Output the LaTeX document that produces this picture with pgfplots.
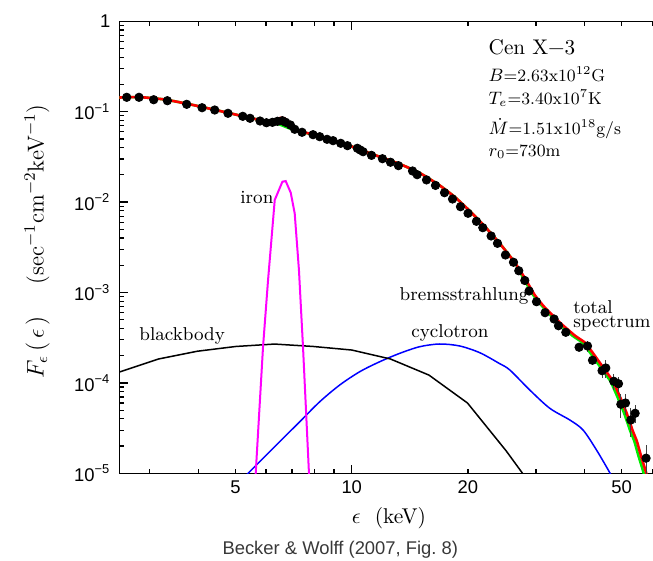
\documentclass[border=0pt]{standalone}
\usepackage{pgfplots}
\pgfplotsset{compat=1.18}
\usepackage{fontspec}
\newfontfamily\hel{Liberation Sans}
\newcommand\ticksf{\hel\fontsize{9.2}{11}\selectfont}
\newcommand\lab{\fontsize{9.3}{11}\selectfont}
\definecolor{cRed}{RGB}{255,0,0}
\definecolor{cGreen}{RGB}{0,235,0}
\definecolor{cBlue}{RGB}{0,0,255}
\definecolor{cMag}{RGB}{255,0,255}

% total model spectrum (with the iron line)
\pgfplotstableread{
x y
2.4953 0.1435
2.8232 0.1450
3.2777 0.13645
3.8056 0.12075
4.4167 0.10497
5.1274 0.09077
5.7769 0.08094
6.1319 0.07830
6.3553 0.08198
6.5478 0.08560
6.7058 0.08409
6.8677 0.07692
7.0761 0.06686
7.3335 0.06116
7.9245 0.05594
8.7700 0.04952
10.000 0.04120
11.471 0.03319
13.318 0.02639
15.004 0.02099
16.904 0.01527
18.489 0.01139
20.219 0.007972
22.112 0.005372
24.181 0.003484
26.444 0.002147
28.066 0.001447
29.787 0.000938
31.623 0.000683
34.584 0.000466
37.821 0.0003345
40.155 0.0002798
42.132 0.0002141
44.704 0.0001500
47.447 0.0001050
49.473 0.0000707
51.576 0.0000459
53.452 0.0000294
54.743 0.0000228
56.061 0.0000159
57.075 0.0000124
57.930 0.0000100
58.452 0.0000080
}\totalred

% continuum model
\pgfplotstableread{
x y
2.4953 0.1435
2.8232 0.1450
3.2777 0.13645
3.8056 0.12075
4.4167 0.10497
5.1274 0.09077
5.7769 0.08094
6.1319 0.07692
6.5089 0.07218
6.9089 0.06521
7.3335 0.06039
7.9245 0.05594
8.7700 0.04952
10.000 0.04120
11.471 0.03319
13.318 0.02639
15.004 0.02099
16.904 0.01527
18.489 0.01139
20.219 0.007972
22.112 0.005372
24.181 0.003484
26.444 0.002147
27.81 0.001447
29.52 0.000938
31.34 0.000683
34.14 0.000466
37.25 0.0003345
39.55 0.0002798
41.50 0.0002141
44.03 0.0001500
46.74 0.0001050
48.73 0.0000707
50.80 0.0000459
52.65 0.0000294
53.92 0.0000228
55.22 0.0000159
56.22 0.0000124
57.06 0.0000100
57.57 0.0000080
}\contgreen

\pgfplotstableread{
x y
2.45 1.28e-4
3.162 1.84e-4
3.981 2.24e-4
5.012 2.53e-4
6.310 2.69e-4
7.943 2.53e-4
10.00 2.31e-4
12.59 1.84e-4
15.85 1.22e-4
19.95 5.99e-5
25.12 1.77e-5
31.62 4.6e-6
}\blackbody

\pgfplotstableread{
x y
5.076 7.75e-6
5.387 1.0e-5
6.132 1.738e-5
7.334 3.72e-5
8.263 6.19e-5
9.309 9.48e-5
10.49 1.33e-4
11.82 1.716e-4
13.32 2.125e-4
15.00 2.515e-4
16.90 2.694e-4
19.05 2.56e-4
21.46 2.158e-4
24.08 1.647e-4
25.67 1.39e-4
28.91 8.35e-5
32.58 5.24e-5
36.71 3.89e-5
39.74 3.01e-5
43.05 1.81e-5
46.60 1.015e-5
48.0 7.9e-6
}\cyclotron

\pgfplotstableread{
x y
5.620 7.75e-6
5.640 1.0e-5
5.892 2.51e-4
6.071 1.375e-3
6.318 1.055e-2
6.613 1.68e-2
6.745 1.71e-2
6.950 1.27e-2
7.117 7.52e-3
7.30 1.77e-3
7.478 2.51e-4
7.75 1.0e-5
7.77 7.8e-6
}\ironline

% observed spectrum: energy, flux, errors
\pgfplotstableread{
x y ex ey
2.613 0.1443 0 0
2.812 0.1443 0 0
3.069 0.1357 0 0
3.330 0.1323 0 0
3.737 0.1207 0 0
4.095 0.1107 0 0
4.417 0.1044 0 0
4.780 0.0960 0 0
5.221 0.0889 0 0
5.453 0.0845 0 0
5.787 0.0789 0 0
6.012 0.0755 0 0
6.232 0.0763 0 0
6.420 0.0783 0 0
6.613 0.0795 0 0
6.745 0.0763 0 0
6.937 0.0713 0 0
7.117 0.0639 0 0
7.434 0.0592 0 0
7.940 0.0557 0 0
8.263 0.0529 0 0
8.630 0.0495 0 0
8.946 0.0478 0 0
9.365 0.0447 0 0
9.747 0.0421 0 0
10.34 0.0394 0 0
10.52 0.0377 0 0
10.70 0.0361 0 0
11.25 0.0329 0 0
12.01 0.0302 0 0
12.60 0.0276 0 0
13.21 0.0253 0 0
14.37 0.0221 0 0
14.77 0.0201 0 0
15.62 0.0176 0 0
16.48 0.0153 0 0
17.39 0.0127 0 0
18.24 0.01082 0 0
19.13 0.00889 0 0
20.01 0.00752 0 0
21.04 0.00613 0 0
21.85 0.00521 0 0
22.96 0.00422 0 0
23.85 0.00350 0 0
25.01 0.00260 0 0
26.24 0.00216 0 0
27.08 0.00174 0 0
28.07 0.001358 0 0
28.80 0.001039 0 0
30.10 0.000791 0 0
31.68 0.000598 0 0
33.43 0.000509 0 0
34.32 0.000429 0 0
35.85 0.000363 0 0
38.81 0.000248 0.9 2.0e-5
40.8 0.000256 0 3.8e-5
42.04 0.000178 0 1.8e-5
44.50 0.0001365 0 2.25e-5
45.50 0.0001462 0 3.3e-5
47.73 0.0001042 0 2.0e-5
49.08 0.0000980 0 1.9e-5
49.77 0.0000580 0 1.7e-5
51.18 0.0000599 0 1.55e-5
52.83 0.0000389 0 1.4e-5
54.20 0.0000461 0 1.05e-5
57.86 0.0000147 0 5.7e-6
}\observed

\begin{document}
\begin{tikzpicture}
\useasboundingbox (-59.65pt,-43.85pt) rectangle (266.85pt,236.65pt);
\begin{axis}[
  at={(0pt,0pt)}, anchor=south west,
  scale only axis, width=266.85pt, height=226pt,
  xmode=log, ymode=log,
  xmin=2.5, xmax=60.3, ymin=1e-5, ymax=1,
  axis x line*=box, axis y line*=left,
  axis line style={line width=0.7pt, black},
  tick style={line width=0.6pt, black},
  major tick length=4.25pt, minor tick length=2.25pt,
  tick label style={font=\ticksf, black},
  yticklabel style={xshift=-1pt},
  xtick={10}, xticklabels={10},
  extra x ticks={5,20,50}, extra x tick labels={5,20,50},
  extra x tick style={major tick style={draw=none}},
  minor xtick={3,4,5,6,7,8,9,20,30,40,50,60},
  ytick={1e-5,1e-4,1e-3,1e-2,1e-1,1},
  yticklabels={10\textsuperscript{−5},10\textsuperscript{−4},10\textsuperscript{−3},10\textsuperscript{−2},10\textsuperscript{−1},1},
  minor ytick={2e-5,3e-5,4e-5,5e-5,6e-5,7e-5,8e-5,9e-5,
               2e-4,3e-4,4e-4,5e-4,6e-4,7e-4,8e-4,9e-4,
               2e-3,3e-3,4e-3,5e-3,6e-3,7e-3,8e-3,9e-3,
               2e-2,3e-2,4e-2,5e-2,6e-2,7e-2,8e-2,9e-2,
               2e-1,3e-1,4e-1,5e-1,6e-1,7e-1,8e-1,9e-1},
]
\addplot[cBlue, line width=0.75pt, smooth, tension=0.5] table[x=x,y=y] {\cyclotron};
\addplot[black, line width=0.75pt] table[x=x,y=y] {\blackbody};
\addplot[cMag, line width=1pt] table[x=x,y=y] {\ironline};
\addplot[cGreen, line width=1.3pt, smooth, tension=0.3] table[x=x,y=y] {\contgreen};
\addplot[cRed, line width=1.3pt, smooth, tension=0.3] table[x=x,y=y] {\totalred};
\addplot[only marks, mark=*, mark size=2.1pt, black,
  error bars/.cd, x dir=both, x explicit, y dir=both, y explicit,
  error mark=none, error bar style={line width=0.5pt, black!75}]
  table[x=x, y=y, x error=ex, y error=ey] {\observed};
\end{axis}

% axis titles and source line
\node[font=\fontsize{10.7}{12}\selectfont] at (134.85pt,-22.35pt) {$\epsilon$\hspace{7pt}(keV)};
\node[rotate=90, font=\fontsize{11.5}{13}\selectfont] at (-41.15pt,115.8pt)
  {$F_{\epsilon}\,(\,\epsilon\,)$\hspace{16pt}(sec$^{-1}$cm$^{-2}$keV$^{-1}$)};
\node[font=\hel\fontsize{9.2}{11}\selectfont, text=black!78] at (110.5pt,-38.35pt) {Becker \& Wolff (2007, Fig.~8)};

% component labels
\node[anchor=base west, inner sep=0pt, font=\lab] at (60.35pt,135pt) {iron};
\node[anchor=base west, inner sep=0pt, font=\lab] at (9.85pt,66.15pt) {blackbody};
\node[anchor=base west, inner sep=0pt, font=\lab] at (145.85pt,68pt) {cyclotron};
\node[anchor=base west, inner sep=0pt, font=\lab] at (140pt,86.15pt) {bremsstrahlung};
\node[anchor=base west, inner sep=0pt, align=left,
  font={\lab\lineskiplimit=-100pt}] at (226.85pt,73pt) {total\\[-4.2pt]spectrum};

% model parameters (node baseline is that of the last line)
\node[anchor=base west, inner sep=0pt, font=\fontsize{10.6}{12}\selectfont] at (184.5pt,209.15pt) {Cen X−3};
\node[anchor=base west, inner sep=0pt, align=left,
  font={\fontsize{8.6}{10}\selectfont\lineskiplimit=-100pt}] at (184.5pt,158.3pt)
  {$B$=2.63x10$^{12}$G\\[1.65pt]
   $T_e$=3.40x10$^{7}$K\\[5pt]
   $\dot M$=1.51x10$^{18}$g/s\\[0.85pt]
   $r_0$=730m};
\end{tikzpicture}
\end{document}
